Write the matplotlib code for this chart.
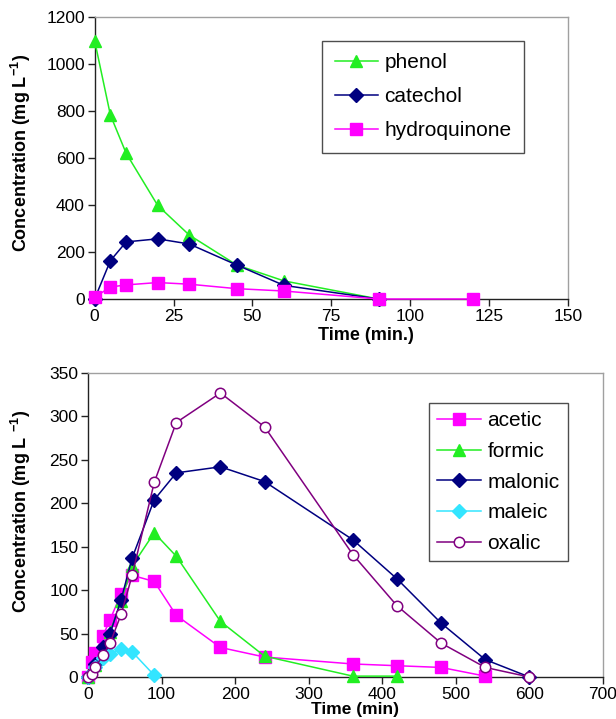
import matplotlib
matplotlib.use("Agg")
import matplotlib.pyplot as plt

plt.rcParams['font.family'] = ['Liberation Sans', 'DejaVu Sans']

# ---- top panel data ----
t_top = [0, 5, 10, 20, 30, 45, 60, 90]
phenol = [1100, 783, 620, 398, 272, 145, 77, 0]
catechol = [0, 163, 243, 256, 234, 145, 58, 0]
t_hq = [0, 5, 10, 20, 30, 45, 60, 90, 120]
hydroquinone = [7, 51, 60, 70, 63, 44, 34, 0, 0]

# ---- bottom panel data ----
t_acetic = [0, 5, 10, 20, 30, 45, 60, 90, 120, 180, 240, 360, 420, 480, 540]
acetic = [0, 17, 28, 47, 66, 96, 117, 110, 71, 34, 23, 15, 13, 11, 1]
t_formic = [0, 10, 20, 30, 45, 60, 90, 120, 180, 240, 360, 420]
formic = [0, 14, 30, 52, 87, 128, 166, 139, 64, 24, 1, 1]
t_malonic = [0, 10, 20, 30, 45, 60, 90, 120, 180, 240, 360, 420, 480, 540, 600]
malonic = [0, 15, 34, 50, 89, 137, 204, 235, 242, 225, 158, 113, 62, 20, 0]
t_maleic = [0, 10, 20, 30, 45, 60, 90]
maleic = [0, 12, 22, 27, 32, 29, 2]
t_oxalic = [0, 5, 10, 20, 30, 45, 60, 90, 120, 180, 240, 360, 420, 480, 540, 600]
oxalic = [0, 4, 11, 25, 39, 72, 117, 224, 293, 327, 288, 141, 82, 39, 11, 0]

GREEN = '#22ee22'
NAVY = '#000080'
MAG = '#ff00ff'
CYAN = '#33e5ff'
PURP = '#800080'

W, H = 616, 719
fig = plt.figure(figsize=(W / 100, H / 100), dpi=100)

def style(ax):
    for s in ['top', 'right']:
        ax.spines[s].set_color('#a0a0a0')
        ax.spines[s].set_linewidth(1.0)
    for s in ['left', 'bottom']:
        ax.spines[s].set_color('#222222')
        ax.spines[s].set_linewidth(1.0)
    ax.tick_params(direction='out', length=5, width=1, labelsize=12.5, colors='#222222', pad=2)
    ax.tick_params(labelcolor='black')

def legend(ax, x, y, **kw):
    lg = ax.legend(loc='upper left', bbox_to_anchor=(x / W, 1 - y / H), bbox_transform=fig.transFigure,
                   borderaxespad=0, fontsize=15, frameon=True, fancybox=False, edgecolor='#222222',
                   handlelength=2.1, handletextpad=0.3, **kw)
    lg.get_frame().set_linewidth(1.0)
    return lg

# ---------------- top panel ----------------
ax1 = fig.add_axes([94.6 / W, 1 - 299 / H, (568 - 94.6) / W, (299 - 17) / H])
ax1.plot(t_top, phenol, color=GREEN, marker='^', ms=9, lw=1.1, label='phenol', clip_on=False, zorder=3)
ax1.plot(t_top, catechol, color=NAVY, marker='D', ms=7.5, lw=1.1, label='catechol', clip_on=False, zorder=4)
ax1.plot(t_hq, hydroquinone, color=MAG, marker='s', ms=8.5, lw=1.1, label='hydroquinone', clip_on=False, zorder=5)
ax1.set_xlim(0, 150)
ax1.set_ylim(0, 1200)
ax1.set_xticks([0, 25, 50, 75, 100, 125, 150])
ax1.set_yticks([0, 200, 400, 600, 800, 1000, 1200])
ax1.set_xlabel('Time (min.)', fontsize=13, fontweight='bold')
ax1.xaxis.set_label_coords(0.573, -0.098)
ax1.set_ylabel('Concentration (mg L$^{\\mathregular{-1}}$)', fontsize=13, fontweight='bold')
ax1.yaxis.set_label_coords(-0.130, 0.518)
style(ax1)
legend(ax1, 322, 41, borderpad=0.6, labelspacing=0.72)

# ---------------- bottom panel ----------------
ax2 = fig.add_axes([88 / W, 1 - 677 / H, (603 - 88) / W, (677 - 373) / H])
ax2.plot(t_acetic, acetic, color=MAG, marker='s', ms=8, lw=1.1, label='acetic', clip_on=False, zorder=3)
ax2.plot(t_formic, formic, color=GREEN, marker='^', ms=8.5, lw=1.1, label='formic', clip_on=False, zorder=3)
ax2.plot(t_malonic, malonic, color=NAVY, marker='D', ms=7, lw=1.1, label='malonic', clip_on=False, zorder=4)
ax2.plot(t_maleic, maleic, color=CYAN, marker='D', ms=7, lw=1.1, label='maleic', clip_on=False, zorder=4)
ax2.plot(t_oxalic, oxalic, color=PURP, marker='o', ms=7.5, mfc='white', mew=1.1, lw=1.1,
         label='oxalic', clip_on=False, zorder=5)
ax2.set_xlim(0, 700)
ax2.set_ylim(0, 350)
ax2.set_xticks([0, 100, 200, 300, 400, 500, 600, 700])
ax2.set_yticks([0, 50, 100, 150, 200, 250, 300, 350])
ax2.set_xlabel('Time (min)', fontsize=12.5, fontweight='bold')
ax2.xaxis.set_label_coords(0.518, -0.083)
ax2.set_ylabel('Concentration (mg L $^{\\mathregular{-1}}$)', fontsize=13, fontweight='bold')
ax2.yaxis.set_label_coords(-0.107, 0.543)
style(ax2)
legend(ax2, 429, 403, borderpad=0.4, labelspacing=0.56)

fig.savefig('out.png', dpi=100)
